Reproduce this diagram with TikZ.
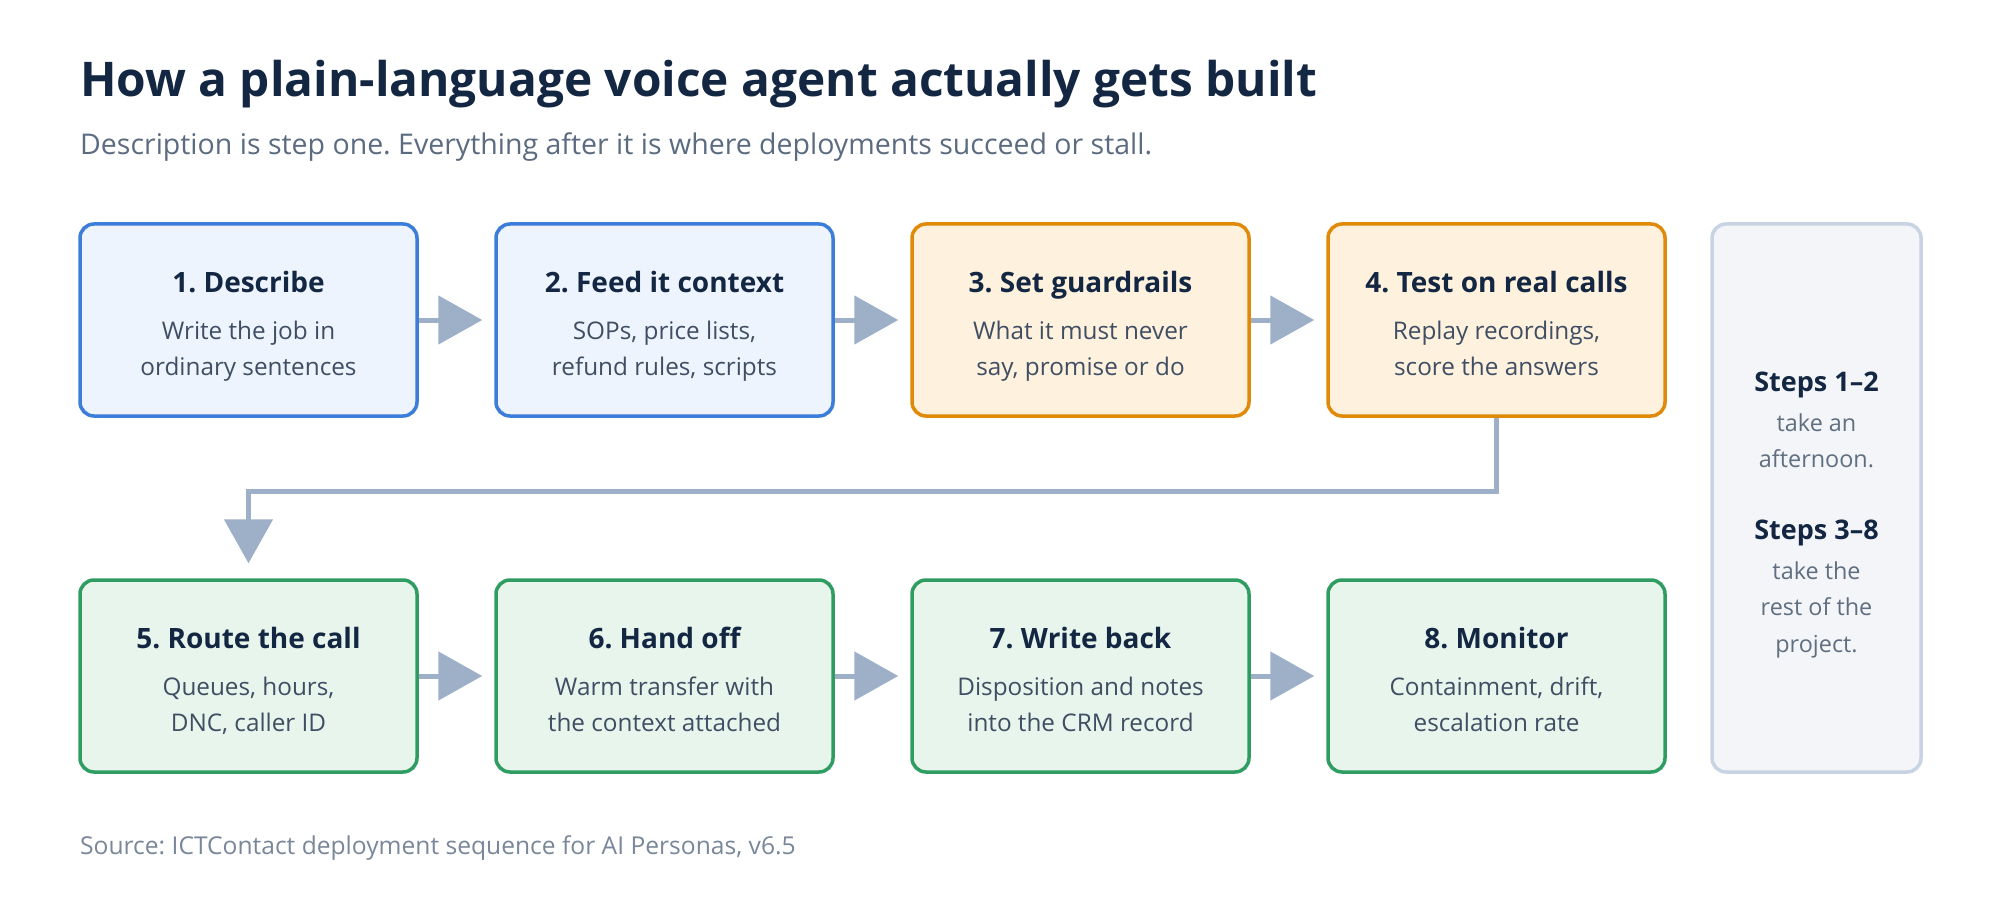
\documentclass[tikz,border=0pt]{standalone}
\usepackage{fontspec}
\setmainfont{Open Sans}
\frenchspacing
\usetikzlibrary{arrows.meta,calc}
\definecolor{ink}{HTML}{132743}
\definecolor{subg}{HTML}{5B6B80}
\definecolor{bodyc}{HTML}{3F4E63}
\definecolor{panelc}{HTML}{5F6E80}
\definecolor{srcc}{HTML}{7A8799}
\definecolor{blueB}{HTML}{3B7DD8}
\definecolor{blueF}{HTML}{EDF4FE}
\definecolor{orB}{HTML}{DF8A08}
\definecolor{orF}{HTML}{FEF1DE}
\definecolor{grB}{HTML}{2F9D62}
\definecolor{grF}{HTML}{E8F5EC}
\definecolor{pnB}{HTML}{C8D4E3}
\definecolor{pnF}{HTML}{F3F5F9}
\definecolor{arr}{HTML}{9DB0C8}
\tikzset{
  stepbox/.style={draw, line width=3.5pt, rounded corners=14pt, minimum width=337pt, minimum height=192pt, inner sep=0pt},
  bluebox/.style={stepbox, draw=blueB, fill=blueF},
  orbox/.style={stepbox, draw=orB, fill=orF},
  grbox/.style={stepbox, draw=grB, fill=grF},
  ttl/.style={anchor=base, inner sep=0pt, text=ink, font=\fontsize{28}{32}\selectfont\bfseries},
  bod/.style={anchor=base, inner sep=0pt, text=bodyc, font=\fontsize{24.3}{28}\selectfont},
  pttl/.style={anchor=base, inner sep=0pt, text=ink, font=\fontsize{27}{31}\selectfont\bfseries},
  pbod/.style={anchor=base, inner sep=0pt, text=panelc, font=\fontsize{23.4}{27}\selectfont},
  flow/.style={draw=arr, line width=5pt, -{Triangle[length=44pt, width=48pt]}, shorten >=12pt},
}
\begin{document}
\begin{tikzpicture}[x=1pt, y=-1pt]
\useasboundingbox (0,0) rectangle (2000,920);
\fill[white] (0,0) rectangle (2000,920);
% heading
\node[anchor=base west, inner sep=0pt, text=ink, font=\fontsize{47.8}{52}\selectfont\bfseries] (title) at (80,97) {How a plain-language voice agent actually gets built};
\node[anchor=base west, inner sep=0pt, text=subg, font=\fontsize{28.5}{32}\selectfont] (sub) at (80,155) {Description is step one. Everything after it is where deployments succeed or stall.};
% boxes row 1
\node[bluebox] (b1) at (248.5,320) {};
\node[bluebox] (b2) at (664.5,320) {};
\node[orbox] (b3) at (1080.5,320) {};
\node[orbox] (b4) at (1496.5,320) {};
% row 2
\node[grbox] (b5) at (248.5,676) {};
\node[grbox] (b6) at (664.5,676) {};
\node[grbox] (b7) at (1080.5,676) {};
\node[grbox] (b8) at (1496.5,676) {};
% panel
\node[draw=pnB, fill=pnF, line width=3.5pt, rounded corners=14pt, minimum width=209pt, minimum height=548pt, inner sep=0pt] (panel) at (1816.5,498) {};
% texts row 1
\node[ttl] (t1) at (248.5,292) {1. Describe};
\node[bod] (t1a) at (248.5,339) {Write the job in};
\node[bod] (t1b) at (248.5,375) {ordinary sentences};
\node[ttl] (t2) at (664.5,292) {2. Feed it context};
\node[bod] (t2a) at (664.5,339) {SOPs, price lists,};
\node[bod] (t2b) at (664.5,375) {refund rules, scripts};
\node[ttl] (t3) at (1080.5,292) {3. Set guardrails};
\node[bod] (t3a) at (1080.5,339) {What it must never};
\node[bod] (t3b) at (1080.5,375) {say, promise or do};
\node[ttl] (t4) at (1496.5,292) {4. Test on real calls};
\node[bod] (t4a) at (1496.5,339) {Replay recordings,};
\node[bod] (t4b) at (1496.5,375) {score the answers};
% texts row 2
\node[ttl] (t5) at (248.5,648) {5. Route the call};
\node[bod] (t5a) at (248.5,695) {Queues, hours,};
\node[bod] (t5b) at (248.5,731) {DNC, caller ID};
\node[ttl] (t6) at (664.5,648) {6. Hand off};
\node[bod] (t6a) at (664.5,695) {Warm transfer with};
\node[bod] (t6b) at (664.5,731) {the context attached};
\node[ttl] (t7) at (1080.5,648) {7. Write back};
\node[bod] (t7a) at (1080.5,695) {Disposition and notes};
\node[bod] (t7b) at (1080.5,731) {into the CRM record};
\node[ttl] (t8) at (1496.5,648) {8. Monitor};
\node[bod] (t8a) at (1496.5,695) {Containment, drift,};
\node[bod] (t8b) at (1496.5,731) {escalation rate};
% panel text
\node[pttl] (p1) at (1816.5,391) {Steps 1–2};
\node[pbod] (p1a) at (1816.5,431) {take an};
\node[pbod] (p1b) at (1816.5,467) {afternoon.};
\node[pttl] (p2) at (1816.5,539) {Steps 3–8};
\node[pbod] (p2a) at (1816.5,579) {take the};
\node[pbod] (p2b) at (1816.5,615) {rest of the};
\node[pbod] (p2c) at (1816.5,652) {project.};
% source
\node[anchor=base west, inner sep=0pt, text=srcc, font=\fontsize{24.6}{28}\selectfont] (src) at (80,854) {Source: ICTContact deployment sequence for AI Personas, v6.5};
% connectors
\draw[flow] (b1.east) -- (b2.west);
\draw[flow] (b2.east) -- (b3.west);
\draw[flow] (b3.east) -- (b4.west);
\draw[flow] (b5.east) -- (b6.west);
\draw[flow] (b6.east) -- (b7.west);
\draw[flow] (b7.east) -- (b8.west);
\coordinate (bend) at (1496.5,491);
\draw[flow, shorten >=15pt] (b4.south) -- (bend) -| (b5.north);
\end{tikzpicture}
\end{document}
